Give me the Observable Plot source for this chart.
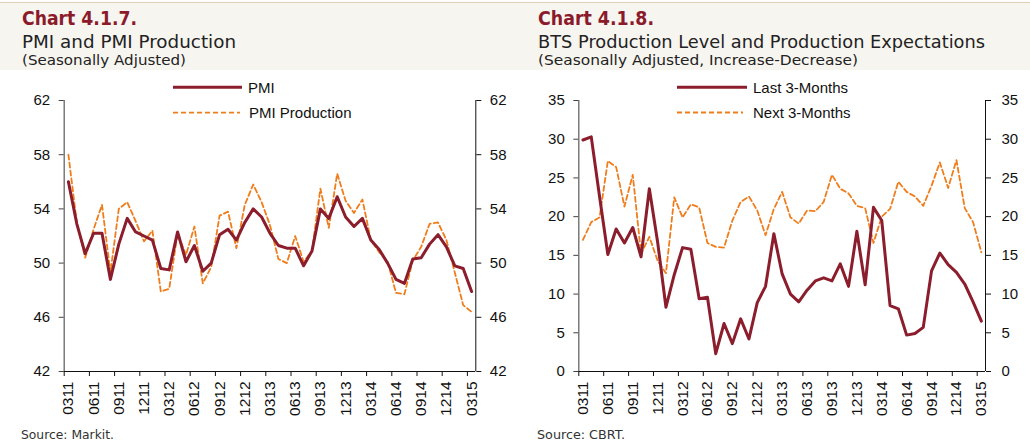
<!DOCTYPE html>
<html>
<head>
<meta charset="utf-8">
<script src="https://cdn.jsdelivr.net/npm/d3@7"></script>
<script src="https://cdn.jsdelivr.net/npm/@observablehq/plot@0.6"></script>
<style>
  html, body { margin: 0; padding: 0; background: #fff; }
  body { width: 1030px; height: 443px; position: relative; overflow: hidden; }
  .layer { position: absolute; left: 0; top: 0; }
  .chart { position: absolute; top: 75px; }
  .chart svg { background: transparent !important; }
</style>
</head>
<body>
<svg id="bg" class="layer" width="1030" height="443"></svg>
<div id="c1" class="chart" style="left:0px"></div>
<div id="c2" class="chart" style="left:515px"></div>
<svg id="fg" class="layer" width="1030" height="443" style="pointer-events:none"></svg>
<script>
// ---- Data (monthly, 03/2011 – 03/2015) ----
const tickLabels = ["0311","0611","0911","1211","0312","0612","0912","1212","0313","0613","0913","1213","0314","0614","0914","1214","0315"];

const pmi = [56.0, 52.9, 50.7, 52.2, 52.2, 48.8, 51.4, 53.3, 52.3, 52.0, 51.7, 49.6, 49.5, 52.3, 50.1, 51.3, 49.4, 50.0, 52.1, 52.5, 51.7, 53.0, 54.0, 53.4,
             52.2, 51.3, 51.1, 51.1, 49.8, 50.9, 54.0, 53.3, 54.9, 53.4, 52.7, 53.3, 51.7, 51.0, 50.0, 48.8, 48.5, 50.3, 50.4, 51.4, 52.1, 51.2, 49.8, 49.6, 47.9];
const pmiProduction = [58.0, 53.0, 50.4, 52.5, 54.3, 49.3, 54.0, 54.5, 53.1, 51.6, 52.4, 47.9, 48.1, 52.2, 50.6, 52.7, 48.5, 49.7, 53.5, 53.8, 51.1, 54.3, 55.8, 54.5,
             52.8, 50.3, 50.0, 52.0, 50.1, 50.9, 55.5, 52.6, 56.6, 54.6, 53.7, 54.7, 51.7, 50.8, 50.1, 47.8, 47.7, 50.2, 51.2, 52.9, 53.0, 51.7, 49.3, 46.9, 46.4];

const last3Months = [29.9, 30.3, 22.6, 15.1, 18.4, 16.6, 18.6, 14.8, 23.6, 16.7, 8.3, 12.5, 16.0, 15.8, 9.4, 9.6, 2.3, 6.2, 3.6, 6.8, 4.2, 8.9, 11.0, 17.8,
             12.6, 10.0, 9.0, 10.5, 11.7, 12.1, 11.7, 13.9, 11.0, 18.1, 11.2, 21.2, 19.5, 8.5, 8.1, 4.7, 4.9, 5.7, 13.0, 15.3, 13.8, 12.8, 11.3, 9.0, 6.5];
const next3Months = [17.0, 19.3, 19.9, 27.2, 26.4, 21.3, 25.4, 15.2, 17.4, 14.3, 12.7, 22.5, 19.9, 21.6, 21.2, 16.6, 16.1, 16.0, 19.5, 21.9, 22.6, 20.8, 17.6, 21.0,
             23.2, 19.9, 19.1, 20.8, 20.7, 21.9, 25.4, 23.6, 23.0, 21.4, 21.1, 16.6, 20.0, 21.0, 24.5, 23.2, 22.6, 21.4, 24.0, 27.0, 23.7, 27.3, 21.1, 19.3, 15.4];

const pmiTicks = [42, 46, 50, 54, 58, 62];
const btsTicks = [0, 5, 10, 15, 20, 25, 30, 35];

// ---- Styles ----
const RED = "#8b1d2c";
const ORANGE = "#f07d1c";
const AXIS_FONT = "'Liberation Sans', Arial, sans-serif";
const TITLE_FONT = "'DejaVu Sans', sans-serif";

function makeChart({solid, dashed, yDomain, yTicks, marginLeft, marginRight, padL, padR}) {
  const n = solid.length;
  const tickPos = tickLabels.map((_, k) => 3 * k - 0.5);
  const labelPos = tickLabels.map((_, k) => 3 * k);
  return Plot.plot({
    width: 515,
    height: 350,
    marginTop: 25,
    marginBottom: 54,
    marginLeft,
    marginRight,
    x: {type: "linear", domain: [-0.5, n - 0.5], axis: null},
    y: {domain: yDomain, axis: null},
    style: {fontFamily: AXIS_FONT, fontSize: "15px", color: "#111", background: "transparent", overflow: "visible"},
    marks: [
      Plot.line(dashed, {x: (d, i) => i, y: d => d, stroke: ORANGE, strokeWidth: 1.8, strokeDasharray: "5,3", strokeLinejoin: "round"}),
      Plot.line(solid, {x: (d, i) => i, y: d => d, stroke: RED, strokeWidth: 3, strokeLinejoin: "round", strokeLinecap: "round"}),
      Plot.ruleX([-0.5], {stroke: "#666", strokeWidth: 1.3}),
      Plot.ruleX([n - 0.5], {stroke: "#111"}),
      Plot.ruleY([yDomain[0]], {stroke: "#111"}),
      Plot.axisY({anchor: "left", ticks: yTicks, tickSize: 5, tickPadding: padL, stroke: "#444"}),
      Plot.axisY({anchor: "right", ticks: yTicks, tickSize: 5, tickPadding: padR, stroke: "#111"}),
      Plot.axisX({anchor: "bottom", ticks: tickPos, tickSize: 5, tickFormat: () => "", stroke: "#111"}),
      Plot.axisX({anchor: "bottom", ticks: labelPos, tickSize: 0, tickPadding: 10, tickRotate: -90, fontSize: 15.5,
                  tickFormat: d => tickLabels[Math.round(d / 3)]})
    ]
  });
}

document.getElementById("c1").appendChild(makeChart({
  solid: pmi, dashed: pmiProduction, yDomain: [42, 62], yTicks: pmiTicks,
  marginLeft: 63.7, marginRight: 39.7, padL: 9, padR: 9
}));
document.getElementById("c2").appendChild(makeChart({
  solid: last3Months, dashed: next3Months, yDomain: [0, 35], yTicks: btsTicks,
  marginLeft: 63.3, marginRight: 45, padL: 9, padR: 11
}));

// ---- Background: header band, titles, sources ----
const NS = "http://www.w3.org/2000/svg";
function el(parent, tag, attrs, text) {
  const e = document.createElementNS(NS, tag);
  for (const k in attrs) if (attrs[k] != null) e.setAttribute(k, attrs[k]);
  if (text != null) e.textContent = text;
  parent.appendChild(e);
  return e;
}
const bg = document.getElementById("bg");
el(bg, "rect", {x: 0, y: 3, width: 1030, height: 67, fill: "#f7f5f0"});
el(bg, "line", {x1: 0, x2: 1030, y1: 2.5, y2: 2.5, stroke: "#dccfb6", "stroke-width": 1});

const titles = [
  {x: 22, title: "Chart 4.1.7.", tw: 115, sub: "PMI and PMI Production", sw: 214, note: "(Seasonally Adjusted)", nw: 164, src: "Source: Markit.", srcw: 93},
  {x: 538, title: "Chart 4.1.8.", tw: 116, sub: "BTS Production Level and Production Expectations", sw: 447, note: "(Seasonally Adjusted, Increase-Decrease)", nw: 320, src: "Source: CBRT.", srcw: 88}
];
for (const t of titles) {
  el(bg, "text", {x: t.x, y: 25, fill: "#8b1a2b", "font-family": TITLE_FONT, "font-weight": "bold", "font-size": 19.5, textLength: t.tw, lengthAdjust: "spacingAndGlyphs"}, t.title);
  el(bg, "text", {x: t.x, y: 48, fill: "#222", "font-family": TITLE_FONT, "font-size": 17.5, textLength: t.sw, lengthAdjust: "spacingAndGlyphs"}, t.sub);
  el(bg, "text", {x: t.x, y: 65, fill: "#222", "font-family": TITLE_FONT, "font-size": 14.3, textLength: t.nw, lengthAdjust: "spacingAndGlyphs"}, t.note);
  el(bg, "text", {x: t.x - 1, y: 439, fill: "#333", "font-family": TITLE_FONT, "font-size": 12.5, textLength: t.srcw, lengthAdjust: "spacingAndGlyphs"}, t.src);
}

// ---- Legends ----
const fg = document.getElementById("fg");
function legendItem(x1, x2, tx, y, label, solid) {
  el(fg, "line", {x1, x2, y1: y, y2: y, stroke: solid ? RED : ORANGE, "stroke-width": solid ? 3 : 1.8, "stroke-dasharray": solid ? null : "5,3"});
  el(fg, "text", {x: tx, y: y + 5.5, fill: "#111", "font-family": AXIS_FONT, "font-size": 15}, label);
}
legendItem(173, 242, 248, 87.3, "PMI", true);
legendItem(173, 240, 249, 112.7, "PMI Production", false);
legendItem(677, 747, 753, 87.3, "Last 3-Months", true);
legendItem(677, 743, 753, 112.5, "Next 3-Months", false);
</script>
</body>
</html>
